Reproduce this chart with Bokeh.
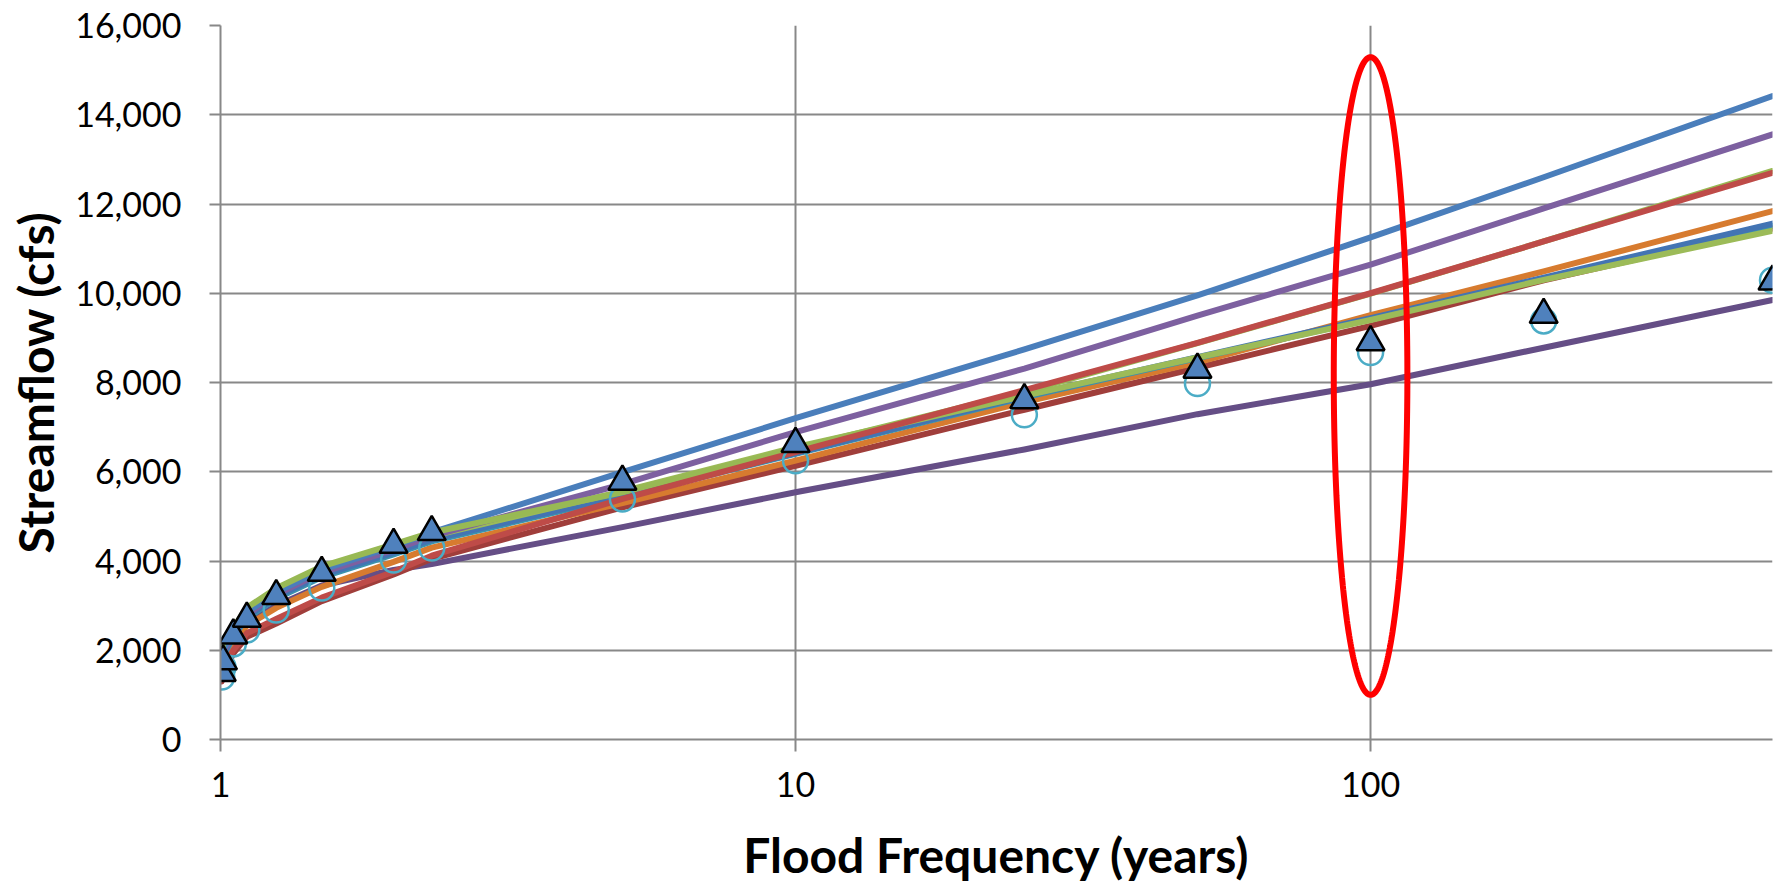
import numpy as np
from bokeh.plotting import figure
from bokeh.models import Range1d, FixedTicker, NumeralTickFormatter
from bokeh.embed import file_html
from bokeh.resources import INLINE

# ---------------- data ----------------
return_period = [1.005, 1.0101, 1.0526, 1.1111, 1.25, 1.5, 2, 2.33, 5, 10, 25, 50, 100, 200, 500]

dark_purple = [1550, 1750, 2200, 2600, 3000, 3450, 3800, 3930, 4760, 5540, 6500, 7290, 7960, 8780, 9850]
dark_red    = [1300, 1450, 1930, 2300, 2600, 3100, 3700, 4050, 5200, 6130, 7390, 8330, 9270, 10290, 11450]
orange      = [1500, 1700, 2150, 2550, 2950, 3420, 3980, 4300, 5300, 6250, 7560, 8450, 9510, 10490, 11840]
teal        = [1650, 1850, 2300, 2720, 3160, 3640, 4150, 4440, 5440, 6400, 7670, 8550, 9420, 10330, 11510]
blue_b      = [1700, 1900, 2330, 2750, 3200, 3680, 4190, 4480, 5470, 6420, 7690, 8570, 9440, 10350, 11560]
green_b     = [1850, 2050, 2440, 2880, 3320, 3800, 4290, 4560, 5560, 6550, 7700, 8560, 9400, 10300, 11400]
purple      = [1750, 1950, 2380, 2800, 3250, 3740, 4250, 4560, 5720, 6890, 8310, 9500, 10640, 11900, 13560]
blue_a      = [1800, 2000, 2420, 2850, 3300, 3800, 4330, 4640, 5990, 7200, 8740, 9950, 11250, 12600, 14420]
green_a     = [1950, 2150, 2500, 2950, 3390, 3880, 4370, 4640, 5540, 6520, 7790, 8880, 9990, 11160, 12740]
red         = [1350, 1550, 2000, 2380, 2700, 3180, 3760, 4120, 5390, 6440, 7830, 8890, 10000, 11160, 12700]

line_series = [dark_purple, dark_red, orange, teal, blue_b, green_b, purple, blue_a, green_a, red]
line_colors = ["#654E86", "#A03E3B", "#D77B2F", "#3B93AD", "#4374B3", "#9CBB58",
               "#7D60A0", "#4A7EBB", "#98B954", "#BE4B48"]

circle_values   = [1400, 1620, 2142, 2455, 2903, 3396, 4023, 4291, 5388, 6246, 7275, 7977, 8671, 9380, 10290]
triangle_values = [1493, 1753, 2335, 2709, 3217, 3738, 4365, 4649, 5780, 6626, 7605, 8290, 8906, 9518, 10264]

x_ticks = [1, 10, 100]
x_tick_labels = ["1", "10", "100"]
y_ticks = [0, 2000, 4000, 6000, 8000, 10000, 12000, 14000, 16000]

# highlight ellipse around the 100-year flood
highlight_period = 100
highlight_low = 1000
highlight_high = 15290
highlight_half_width_decades = 0.064

# ---------------- figure ----------------
FONT = "Lato"
GRID = "#888888"

p = figure(width=1773, height=889, x_axis_type="log",
           x_range=Range1d(1, 500), y_range=Range1d(0, 16000),
           output_backend="svg", toolbar_location=None,
           min_border_left=220, min_border_right=1, min_border_top=25, min_border_bottom=150)
p.outline_line_color = None
p.background_fill_color = "white"
p.border_fill_color = "white"

p.xaxis.ticker = FixedTicker(ticks=x_ticks, minor_ticks=[])
p.xaxis.major_label_overrides = dict(zip(x_ticks, x_tick_labels))
p.yaxis.ticker = FixedTicker(ticks=y_ticks, minor_ticks=[])
p.yaxis.formatter = NumeralTickFormatter(format="0,0")

for ax in (p.xaxis, p.yaxis):
    ax.axis_line_color = GRID
    ax.axis_line_width = 2
    ax.major_tick_line_color = GRID
    ax.major_tick_line_width = 2
    ax.major_tick_in = 0
    ax.minor_tick_line_color = None
    ax.major_label_text_font = FONT
    ax.major_label_text_font_size = "34px"
    ax.major_label_text_color = "black"
    ax.axis_label_text_font = FONT
    ax.axis_label_text_font_size = "48px"
    ax.axis_label_text_font_style = "bold"
    ax.axis_label_text_color = "black"

p.xaxis.major_tick_out = 12
p.yaxis.major_tick_out = 11
p.xaxis.major_label_standoff = 20
p.yaxis.major_label_standoff = 28
p.xaxis.axis_label = "Flood Frequency (years)"
p.yaxis.axis_label = "Streamflow (cfs)"
p.xaxis.axis_label_standoff = 26
p.yaxis.axis_label_standoff = 8

for g in (p.xgrid, p.ygrid):
    g.grid_line_color = GRID
    g.grid_line_width = 2

for vals, col in zip(line_series, line_colors):
    p.line(return_period, vals, line_color=col, line_width=6,
           line_cap="round", line_join="round")

p.scatter(return_period, circle_values, marker="circle", size=25,
          fill_color=None, line_color="#4BACC6", line_width=2.5)
p.scatter(return_period, triangle_values, marker="triangle", size=28,
          fill_color="#4F81BD", line_color="black", line_width=2.5)

t = np.linspace(0, 2 * np.pi, 400)
ell_x = 10 ** (np.log10(highlight_period) + highlight_half_width_decades * np.cos(t))
ell_y = (highlight_low + highlight_high) / 2 + (highlight_high - highlight_low) / 2 * np.sin(t)
p.line(ell_x, ell_y, line_color="#FF0000", line_width=6)

open("out.html", "w").write(file_html(p, INLINE))
